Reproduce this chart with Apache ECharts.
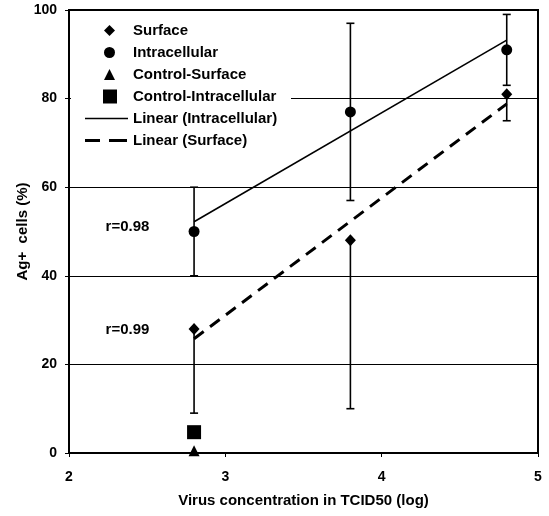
<!DOCTYPE html>
<html><head><meta charset="utf-8">
<script src="https://cdn.jsdelivr.net/npm/echarts@6/dist/echarts.min.js"></script>
<style>html,body{margin:0;padding:0;background:#fff}#c{width:549px;height:516px}</style>
</head><body><div id="c"></div>
<script>
const xVals = [2.8, 3.8, 4.8];
const surface = [28, 48, 81];
const surfaceLow = [9, 10, 75];
const intracellular = [50, 77, 91];
const intraLow = [40, 57, 83];
const intraHigh = [60, 97, 99];
const controlSurface = [0.5];
const controlIntra = [4.7];
const controlX = [2.8];
const trendX = [2.8, 4.8];
const trendIntra = [52.2, 93.2];
const trendSurface = [25.8, 78.8];
const xTicks = [2, 3, 4, 5];
const yTicks = [0, 20, 40, 60, 80, 100];
const rLabels = [{ text: 'r=0.98', x: 2.374, y: 51 }, { text: 'r=0.99', x: 2.374, y: 27.8 }];

const FONT = 'Liberation Sans, Arial, sans-serif';
const chart = echarts.init(document.getElementById('c'));

function errRender(capTop) {
  return function (params, api) {
    const x = api.value(0), lo = api.value(1), hi = api.value(2);
    const pLo = api.coord([x, lo]), pHi = api.coord([x, hi]);
    const w = 4;
    const st = { stroke: '#000', lineWidth: 1.6 };
    const children = [
      { type: 'line', shape: { x1: pLo[0], y1: pLo[1], x2: pHi[0], y2: pHi[1] }, style: st },
      { type: 'line', shape: { x1: pLo[0] - w, y1: pLo[1], x2: pLo[0] + w, y2: pLo[1] }, style: st }
    ];
    if (capTop) children.push({ type: 'line', shape: { x1: pHi[0] - w, y1: pHi[1], x2: pHi[0] + w, y2: pHi[1] }, style: st });
    return { type: 'group', children };
  };
}

const zip = (xs, ys) => xs.map((x, i) => [x, ys[i]]);

const legendText = { fontFamily: FONT, fontWeight: 'bold', fontSize: 15, color: '#000', lineHeight: 15 };

chart.setOption({
  animation: false,
  backgroundColor: '#fff',
  grid: { left: 69, right: 11, top: 10, bottom: 63, show: true, borderColor: '#000', borderWidth: 2, backgroundColor: 'transparent' },
  graphic: [
    { type: 'rect', z: 1, shape: { x: 71, y: 14, width: 220, height: 138 }, style: { fill: '#fff' }, silent: true },
    { type: 'line', z: 10, shape: { x1: 85, y1: 118.5, x2: 128, y2: 118.5 }, style: { stroke: '#000', lineWidth: 1.6 }, silent: true },
    { type: 'line', z: 10, shape: { x1: 85, y1: 140.5, x2: 100, y2: 140.5 }, style: { stroke: '#000', lineWidth: 3 }, silent: true },
    { type: 'line', z: 10, shape: { x1: 109, y1: 140.5, x2: 127, y2: 140.5 }, style: { stroke: '#000', lineWidth: 3 }, silent: true }
  ],
  legend: [
    { orient: 'vertical', left: 104, top: 23, padding: 0, itemWidth: 11, itemHeight: 11, itemGap: 7,
      data: [{ name: 'Surface', icon: 'diamond' }, { name: 'Intracellular', icon: 'circle' }, { name: 'Control-Surface', icon: 'triangle' }],
      textStyle: Object.assign({ padding: [0, 0, 0, 13] }, legendText), selectedMode: false },
    { orient: 'vertical', left: 103, top: 89, padding: 0, itemWidth: 14, itemHeight: 14,
      data: [{ name: 'Control-Intracellular', icon: 'rect' }],
      textStyle: Object.assign({ padding: [0, 0, 0, 11] }, legendText), selectedMode: false },
    { orient: 'vertical', left: 83, top: 111, padding: 0, itemWidth: 45, itemHeight: 15, itemGap: 7,
      data: [{ name: 'Linear (Intracellular)', icon: 'none' }, { name: 'Linear (Surface)', icon: 'none' }],
      textStyle: legendText, selectedMode: false }
  ],
  xAxis: {
    type: 'value', min: 2, max: 5, interval: 1,
    name: 'Virus concentration in TCID50 (log)', nameLocation: 'middle', nameGap: 40, nameMoveOverlap: false,
    nameTextStyle: { fontFamily: FONT, fontWeight: 'bold', fontSize: 15, color: '#000' },
    axisLine: { onZero: false, lineStyle: { color: '#000', width: 2 } },
    axisTick: { show: true, length: 4, lineStyle: { color: '#000', width: 1 } },
    axisLabel: { fontFamily: FONT, fontWeight: 'bold', fontSize: 14, color: '#000', margin: 17,
      formatter: v => xTicks.includes(v) ? String(v) : '' },
    splitLine: { show: false }
  },
  yAxis: {
    type: 'value', min: 0, max: 100, interval: 20,
    name: 'Ag+  cells (%)', nameLocation: 'middle', nameGap: 39, nameMoveOverlap: false,
    nameTextStyle: { fontFamily: FONT, fontWeight: 'bold', fontSize: 15, color: '#000' },
    axisLine: { show: true, lineStyle: { color: '#000', width: 2 } },
    axisTick: { show: true, length: 4, lineStyle: { color: '#000', width: 1 } },
    axisLabel: { fontFamily: FONT, fontWeight: 'bold', fontSize: 14, color: '#000', margin: 12,
      formatter: v => yTicks.includes(v) ? String(v) : '' },
    splitLine: { show: true, lineStyle: { color: '#000', width: 1 } }
  },
  series: [
    { type: 'custom', name: 'errIntra', renderItem: errRender(true), silent: true, z: 3,
      data: xVals.map((x, i) => [x, intraLow[i], intraHigh[i]]) },
    { type: 'custom', name: 'errSurface', renderItem: errRender(false), silent: true, z: 3,
      data: xVals.map((x, i) => [x, surfaceLow[i], surface[i]]) },
    { type: 'line', name: 'Linear (Intracellular)', data: zip(trendX, trendIntra), symbol: 'none', z: 4,
      lineStyle: { color: '#000', width: 1.6, type: 'solid' }, itemStyle: { color: '#000' } },
    { type: 'line', name: 'Linear (Surface)', data: zip(trendX, trendSurface), symbol: 'none', z: 4,
      lineStyle: { color: '#000', width: 3, type: [12, 8] }, itemStyle: { color: '#000' } },
    { type: 'scatter', name: 'Surface', data: zip(xVals, surface), symbol: 'diamond', symbolSize: [11, 12], z: 5,
      itemStyle: { color: '#000', opacity: 1 } },
    { type: 'scatter', name: 'Intracellular', data: zip(xVals, intracellular), symbol: 'circle', symbolSize: 11, z: 5,
      itemStyle: { color: '#000', opacity: 1 } },
    { type: 'scatter', name: 'Control-Surface', data: zip(controlX, controlSurface), symbol: 'triangle', symbolSize: 11, z: 5,
      itemStyle: { color: '#000', opacity: 1 } },
    { type: 'scatter', name: 'Control-Intracellular', data: zip(controlX, controlIntra), symbol: 'rect', symbolSize: 14, z: 5,
      itemStyle: { color: '#000', opacity: 1 } },
    { type: 'scatter', name: 'rlabels', data: rLabels.map(r => ({ value: [r.x, r.y], label: { formatter: r.text } })),
      symbolSize: 1, silent: true, z: 6, itemStyle: { color: 'transparent', opacity: 1 },
      label: { show: true, position: 'inside', fontFamily: FONT, fontWeight: 'bold', fontSize: 15, color: '#000', opacity: 1 } }
  ]
});
</script></body></html>
